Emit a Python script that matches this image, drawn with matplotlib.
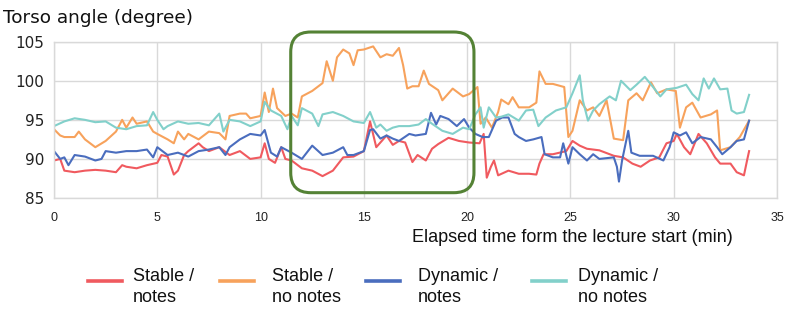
import matplotlib
matplotlib.use("Agg")
import matplotlib.pyplot as plt
from matplotlib.patches import FancyBboxPatch
from matplotlib.lines import Line2D
from matplotlib.transforms import IdentityTransform

# ---- data (minutes, degrees) ----
red_t = [0, 0.3, 0.5, 1, 1.5, 2, 2.5, 3, 3.3, 3.5, 4, 4.5, 5, 5.2, 5.5, 5.8, 6, 6.3, 6.5, 7,
         7.2, 7.5, 8, 8.5, 9, 9.5, 10, 10.2, 10.4, 10.7, 11, 11.2, 11.5, 12, 12.5, 13, 13.5, 14, 14.5, 15,
         15.3, 15.6, 16.1, 16.4, 16.7, 17.0, 17.35, 17.6, 18, 18.3, 18.6, 19.1, 19.6, 20.1, 20.6, 20.8, 20.95, 21.15, 21.3, 21.5,
         22, 22.5, 23, 23.35, 23.5, 23.7, 24.15, 24.8, 25.1, 25.45, 25.8, 26.4, 27.1, 27.55, 28, 28.4, 28.85, 29.3, 29.65, 30,
         30.15, 30.5, 30.8, 31.2, 31.6, 32, 32.25, 32.75, 33.05, 33.4, 33.55, 33.65]
red_v = [89.8, 90, 88.5, 88.3, 88.5, 88.6, 88.5, 88.3, 89.2, 89, 88.8, 89.2, 89.5, 90.5, 90.3, 88, 88.5, 90.5, 91, 92,
         91.5, 91, 91.5, 90.5, 91, 90, 90.2, 92, 90, 89.5, 91.5, 90, 89.8, 88.8, 88.5, 87.8, 88.5, 90.2, 90.3, 91,
         94.8, 91.5, 93, 91.8, 92.3, 92.1, 89.6, 90.5, 89.8, 91.3, 91.9, 92.7, 92.3, 92.1, 92, 93.2, 87.6, 89, 89.8, 87.9,
         88.5, 88.1, 88.1, 88, 89.4, 90.6, 90.6, 91, 92.3, 91.7, 91.3, 91.1, 90.4, 90.2, 89.4, 89, 89.8, 90.2, 92, 92.3,
         93.2, 91.5, 90.6, 93.2, 92, 90.2, 89.4, 89.4, 88.3, 87.9, 89.8, 91]

orange_t = [0, 0.3, 0.5, 1, 1.2, 1.5, 2, 2.5, 3, 3.3, 3.5, 3.8, 4, 4.5, 4.8, 5, 5.5, 5.8, 6, 6.3,
            6.5, 7, 7.5, 8, 8.3, 8.5, 9, 9.3, 9.5, 10, 10.2, 10.4, 10.6, 10.8, 11.2, 11.5, 11.8, 12, 12.5, 13,
            13.2, 13.5, 13.7, 14, 14.3, 14.5, 14.7, 15, 15.45, 15.8, 16.1, 16.4, 16.7, 16.9, 17.1, 17.35, 17.65, 17.9, 18.15, 18.6,
            18.8, 19.3, 19.8, 20.1, 20.5, 20.65, 20.9, 21.2, 21.5, 21.65, 22, 22.2, 22.5, 23, 23.35, 23.5, 23.8, 24.15, 24.7, 24.9,
            25.1, 25.45, 25.8, 26.1, 26.4, 26.75, 27.1, 27.55, 27.8, 28.2, 28.5, 28.9, 29.2, 29.65, 30.1, 30.3, 30.6, 30.9, 31.3, 31.8,
            32.1, 32.25, 32.75, 33.2, 33.65]
orange_v = [93.8, 93, 92.8, 92.8, 93.5, 92.5, 91.5, 92.3, 93.5, 95, 94, 95.3, 94.5, 94.8, 93.5, 93.2, 92.5, 92, 93.5, 92.5,
            93.2, 92.5, 93.5, 93.3, 92.5, 95.5, 95.8, 95.8, 95.2, 95.5, 98.5, 96, 99, 96.5, 95.5, 95.8, 95.3, 98, 98.7, 99.7,
            102.5, 100, 103, 104, 103.5, 102, 103.9, 104, 104.4, 103, 103.4, 103.2, 104.2, 102, 99, 99.3, 99.3, 101.3, 99.6, 98.8,
            97.5, 99, 98, 98.3, 99.2, 94.5, 95.3, 94, 96, 97.6, 97, 97.9, 96.6, 96.6, 97.2, 101.2, 99.6, 99.6, 99.2, 92.8,
            93.6, 97.5, 96.2, 96.6, 95.5, 97.5, 92.6, 92.4, 97.5, 98.4, 97.5, 99.8, 98.4, 98.9, 98.7, 94, 96.6, 97.2, 95.3, 95.7,
            96.2, 91.1, 91.5, 92.8, 94.9]

blue_t = [0, 0.3, 0.5, 0.7, 1, 1.5, 2, 2.3, 2.5, 3, 3.5, 4, 4.5, 4.8, 5, 5.5, 6, 6.5, 7, 7.5,
          8, 8.3, 8.5, 9, 9.5, 10, 10.2, 10.5, 10.8, 11, 11.5, 12, 12.5, 13, 13.5, 14, 14.2, 14.5, 15, 15.3,
          15.45, 15.8, 16.1, 16.4, 16.7, 17.2, 17.5, 18, 18.25, 18.5, 18.7, 19.1, 19.5, 19.85, 20.1, 20.4, 20.75, 21.05, 21.4, 21.7,
          22, 22.3, 22.5, 22.85, 23.2, 23.6, 23.75, 24.15, 24.5, 24.65, 24.9, 25.1, 25.45, 25.8, 26.1, 26.4, 27.1, 27.25, 27.35, 27.5,
          27.8, 27.95, 28.35, 29, 29.5, 29.8, 30, 30.3, 30.6, 30.9, 31.3, 31.8, 32.1, 32.35, 32.75, 33.05, 33.4, 33.65]
blue_v = [91, 90, 90.2, 89.2, 90.5, 90.3, 89.8, 90, 91, 90.8, 91, 91, 91.2, 90.2, 91.5, 90.5, 90.8, 90.3, 91, 91.2,
          91.5, 90.5, 91.5, 92.5, 93.2, 93, 93.7, 90.8, 90.3, 91.5, 90.8, 90, 91.7, 90.5, 90.8, 91.5, 90.5, 90.5, 91, 93.7,
          93.8, 92.6, 93, 92.6, 92.3, 93.2, 93, 93.2, 95.9, 94.4, 95.5, 95.1, 94.2, 95.1, 94, 93.2, 92.8, 92.8, 94.9, 95.3,
          95.3, 93.2, 92.8, 92.3, 92.5, 92.8, 90.6, 90.2, 90.2, 92, 89.4, 91.5, 90.6, 89.8, 90.6, 90, 90.2, 89, 87.1, 89.8,
          93.6, 90.8, 90.4, 90.4, 89.8, 91.5, 93.4, 93, 93.4, 92, 92.8, 92.5, 91.5, 90.6, 91.5, 92.3, 92.5, 94.9]

cyan_t = [0, 0.5, 1, 1.5, 2, 2.5, 3, 3.5, 4, 4.5, 4.8, 5, 5.3, 5.5, 6, 6.5, 7, 7.5, 8, 8.2,
          8.5, 9, 9.5, 10, 10.2, 10.5, 11, 11.3, 11.5, 11.8, 12, 12.5, 12.8, 13, 13.5, 14, 14.5, 15, 15.3, 15.6,
          15.8, 16.1, 16.4, 16.7, 17.2, 17.65, 18, 18.3, 18.8, 19.3, 19.8, 20.1, 20.4, 20.65, 20.8, 21.05, 21.4, 21.65, 22, 22.5,
          22.85, 23.2, 23.45, 23.8, 24.3, 24.8, 25.1, 25.45, 25.6, 25.85, 26.1, 26.4, 26.9, 27.2, 27.45, 27.9, 28.2, 28.6, 29, 29.35,
          29.65, 30.15, 30.6, 30.9, 31.2, 31.45, 31.7, 31.95, 32.25, 32.6, 32.8, 33.05, 33.4, 33.65]
cyan_v = [94.2, 94.8, 95.2, 95, 94.7, 94.8, 94, 93.8, 94.2, 94.3, 96, 95, 93.8, 94.2, 94.8, 94.5, 94.6, 94.3, 95.8, 93.5,
          95, 94.8, 94.2, 94.8, 97.3, 96.2, 95.5, 93.8, 95.5, 94.3, 96.5, 95.8, 94.2, 95.7, 96, 95.5, 94.8, 94.6, 96, 94,
          94.4, 93.6, 94, 94.2, 94.2, 94.4, 95.1, 94.5, 93.6, 93.2, 94, 93.8, 95.7, 96.6, 94, 96.6, 95.3, 95.4, 95.7, 94.9,
          96.2, 96.3, 94.2, 95.3, 96.2, 96.6, 98.4, 100.7, 97.5, 94.9, 96.2, 97, 98, 97.5, 100, 98.8, 99.5, 100.5, 99.2, 98,
          98.9, 99.1, 99.5, 98.3, 97.5, 100.3, 99, 100.3, 98.9, 99, 96.2, 95.8, 96, 98.2]

series_labels = ["Stable /\nnotes", "Stable /\nno notes", "Dynamic /\nnotes", "Dynamic /\nno notes"]
x_ticks = [0, 5, 10, 15, 20, 25, 30, 35]
y_ticks = [85, 90, 95, 100, 105]
highlight = (11.46, 20.33, 85.68, 106.24)  # t0, t1, v0, v1

colors = ["#F05A5F", "#F7A25C", "#4A6DBE", "#82D0CA"]
green = "#548235"
grid_c = "#D9D9D9"

W, H = 797, 322
fig = plt.figure(figsize=(W / 100, H / 100), dpi=100)
ax = fig.add_axes([54 / W, 1 - 198 / H, (777 - 54) / W, (198 - 41.7) / H])

for (t, v), c in zip([(red_t, red_v), (orange_t, orange_v), (blue_t, blue_v), (cyan_t, cyan_v)], colors):
    ax.plot(t, v, color=c, lw=1.5, solid_joinstyle="round")

ax.set_xlim(0, 35)
ax.set_ylim(85, 105)
ax.set_xticks(x_ticks)
ax.set_yticks(y_ticks)
ax.grid(True, color=grid_c, lw=1)
ax.set_axisbelow(True)
for s in ax.spines.values():
    s.set_color(grid_c)
    s.set_linewidth(1)
ax.tick_params(length=0)
ax.tick_params(axis="y", labelsize=11, pad=7, colors="#222222")
ax.tick_params(axis="x", pad=10)
for lab in ax.get_xticklabels():
    lab.set_family("Liberation Sans")
    lab.set_fontsize(9)
    lab.set_color("#222222")

# highlight box
t0, t1, v0, v1 = highlight
p0 = ax.transData.transform((t0, v0))
p1 = ax.transData.transform((t1, v1))
box = FancyBboxPatch((p0[0], p0[1]), p1[0] - p0[0], p1[1] - p0[1],
                     boxstyle="round,pad=0,rounding_size=20", transform=IdentityTransform(),
                     fill=False, ec=green, lw=2.2)
fig.add_artist(box)

fig.text(3 / W, 1 - 18 / H, "Torso angle (degree)", fontsize=13.3, va="center", ha="left", color="#111111")
fig.text(733 / W, 1 - 237 / H, "Elapsed time form the lecture start (min)", fontsize=13,
         family="Liberation Sans", va="center", ha="right", color="#111111")

# legend (manual)
handle_x = [(88, 122), (220, 254), (366, 400), (532, 566)]
text_x = [133, 272, 418, 578]
for (hx0, hx1), tx, c, lab in zip(handle_x, text_x, colors, series_labels):
    fig.add_artist(Line2D([hx0 / W, hx1 / W], [1 - 281 / H, 1 - 281 / H], color=c, lw=2.6,
                          transform=fig.transFigure))
    fig.text(tx / W, 1 - 287 / H, lab, fontsize=13, family="Liberation Sans", va="center", ha="left",
             linespacing=1.25, color="#111111")

fig.savefig("out.png", dpi=100)
